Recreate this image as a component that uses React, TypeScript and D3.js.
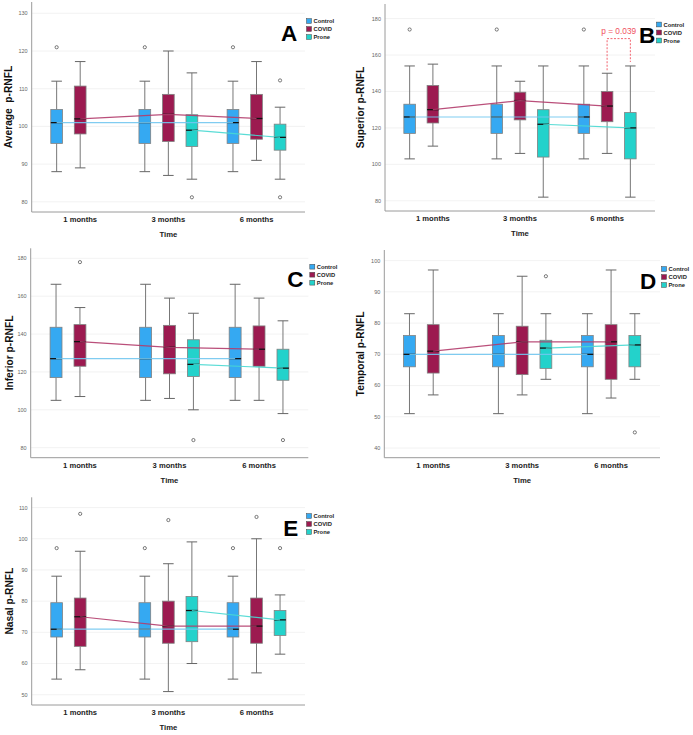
import * as d3 from "d3";

const TIMES = ["1 months", "3 months", "6 months"];
const GROUPS = ["Control", "COVID", "Prone"];
const COLORS = ["#35a9f2", "#9c1a50", "#23d2cb"];
const LINE_COLORS = ["#72c6ef", "#b23c6c", "#48d8d2"];

// each box: [low whisker, q1, median, q3, high whisker]; null = no data
type Box = number[] | null;

// A – Average p-RNFL
const A_CONTROL: Box[] = [[88, 95.5, 101, 104.5, 112], [88, 95.5, 101, 104.5, 112], [88, 95.5, 101, 104.5, 112]];
const A_COVID: Box[] = [[89, 98, 102, 110.7, 117.2], [87, 96, 103.2, 108.5, 120], [91, 96.6, 102.1, 108.5, 117.2]];
const A_PRONE: Box[] = [null, [86, 94.7, 99, 103.1, 114.2], [86, 93.7, 97.1, 100.6, 105.1]];
const A_OUT = [[[121], [121], [121]], [[], [], []], [[], [81.2], [112.2, 81.2]]];

// B – Superior p-RNFL
const B_CONTROL: Box[] = [[103, 117, 126, 133, 154], [103, 117, 126, 133, 154], [103, 117, 126, 133, 154]];
const B_COVID: Box[] = [[110, 122.7, 130, 143.3, 155], [106, 124.4, 135, 139.6, 145.6], [106, 123.4, 132, 140, 150]];
const B_PRONE: Box[] = [null, [82, 104, 122, 130, 154], [82, 103, 120, 128.4, 154]];
const B_OUT = [[[174], [174], [174]], [[], [], []], [[], [], []]];

// C – Inferior p-RNFL
const C_CONTROL: Box[] = [[105, 117, 127, 143.6, 166.3], [105, 117, 127, 143.6, 166.3], [105, 117, 127, 143.6, 166.3]];
const C_COVID: Box[] = [[107, 123, 136, 145, 154], [106, 119, 133, 144.6, 159], [105, 123, 132, 144.3, 159]];
const C_PRONE: Box[] = [null, [100, 117.6, 124, 137, 151], [98, 115.6, 122, 132, 147]];
const C_OUT = [[[], [], []], [[178], [], []], [[], [84], [84]]];

// D – Temporal p-RNFL
const D_CONTROL: Box[] = [[51, 66, 70, 76, 83], [51, 66, 70, 76, 83], [51, 66, 70, 76, 83]];
const D_COVID: Box[] = [[57, 64, 71, 79.5, 97], [57, 63.5, 74, 79, 95], [56, 62, 74, 79.5, 97]];
const D_PRONE: Box[] = [null, [62, 65.5, 72, 74.5, 83], [62, 66, 73, 76, 83]];
const D_OUT = [[[], [], []], [[], [], []], [[], [95], [45]]];

// E – Nasal p-RNFL
const E_CONTROL: Box[] = [[55, 68.5, 71, 79.5, 88], [55, 68.5, 71, 79.5, 88], [55, 68.5, 71, 79.5, 88]];
const E_COVID: Box[] = [[58, 65.5, 75, 81, 96], [51, 66.5, 72, 80, 92], [57, 66.5, 72, 81, 100]];
const E_PRONE: Box[] = [null, [60, 67, 77, 81.5, 99], [63, 69, 74, 77, 82]];
const E_OUT = [[[97], [97], [97]], [[108], [106], [107]], [[], [], [97]]];

const FONT = "'Liberation Sans', Arial, sans-serif";

const PANELS = [
  { letter: "A", label: "Average  p-RNFL", boxes: [A_CONTROL, A_COVID, A_PRONE], out: A_OUT,
    left: 31.7, right: 305, top: 2, bottom: 212, domain: [77.3, 133], ticks: d3.range(80, 131, 10),
    labelX: 12, letterDx: -24, legendDy: 19 },
  { letter: "B", label: "Superior p-RNFL", boxes: [B_CONTROL, B_COVID, B_PRONE], out: B_OUT,
    left: 385, right: 655, top: 4, bottom: 211, domain: [74.4, 188], ticks: d3.range(80, 181, 20),
    labelX: 364, letterDx: -16, legendDy: 20.5, pval: { text: "p = 0.039", t: 2, top: 169 } },
  { letter: "C", label: "Inferior p-RNFL", boxes: [C_CONTROL, C_COVID, C_PRONE], out: C_OUT,
    left: 30.7, right: 308.3, top: 248.3, bottom: 457.7, domain: [74.7, 185.3], ticks: d3.range(80, 181, 20),
    labelX: 12.7, letterDx: -21, legendDy: 18.4 },
  { letter: "D", label: "Temporal p-RNFL", boxes: [D_CONTROL, D_COVID, D_PRONE], out: D_OUT,
    left: 384.3, right: 660, top: 250, bottom: 457.7, domain: [36.9, 103.4], ticks: d3.range(40, 101, 10),
    labelX: 364, letterDx: -20, legendDy: 19 },
  { letter: "E", label: "Nasal p-RNFL", boxes: [E_CONTROL, E_COVID, E_PRONE], out: E_OUT,
    left: 31.7, right: 305, top: 497.3, bottom: 705, domain: [46.7, 113.3], ticks: d3.range(50, 111, 10),
    labelX: 12.7, letterDx: -21.7, legendDy: 18.7 },
];

function Panel({ p }: { p: any }) {
  const y = d3.scaleLinear().domain(p.domain).range([p.bottom, p.top]);
  const x = d3.scalePoint<string>().domain(TIMES).range([p.left, p.right]).padding(0.55);
  const step = x.step();
  const off = step * 0.267;
  const bw = step * 0.133;
  const cap = bw * 0.45;
  const gx = (t: number, g: number) => (x(TIMES[t]) as number) + (g - 1) * off;
  const midY = (p.top + p.bottom) / 2;
  const midX = (p.left + p.right) / 2;

  const medLine = (g: number) =>
    d3
      .line<Box>()
      .defined((d) => d !== null)
      .x((_, i) => gx(i, g))
      .y((d) => y((d as number[])[2]));

  return (
    <g fontFamily={FONT}>
      {/* grid + y ticks */}
      {p.ticks.map((t: number) => (
        <g key={t}>
          <line x1={p.left} x2={p.right} y1={y(t)} y2={y(t)} stroke="#efefef" strokeWidth={0.8} />
          <text x={p.left - 4} y={y(t)} dy="0.35em" textAnchor="end" fontSize={5.5} fill="#666">
            {t}
          </text>
        </g>
      ))}
      {/* axes */}
      <line x1={p.left} x2={p.left} y1={p.top} y2={p.bottom} stroke="#9a9a9a" strokeWidth={1} />
      <line x1={p.left} x2={p.right} y1={p.bottom} y2={p.bottom} stroke="#9a9a9a" strokeWidth={1} />
      {TIMES.map((t) => (
        <text key={t} x={x(t)} y={p.bottom + 10} textAnchor="middle" fontSize={7.6} fontWeight="bold" fill="#222">
          {t}
        </text>
      ))}
      <text x={midX} y={p.bottom + 25} textAnchor="middle" fontSize={7.7} fontWeight="bold" fill="#222">
        Time
      </text>
      <text
        transform={`translate(${p.labelX},${midY}) rotate(-90)`}
        textAnchor="middle"
        fontSize={10.2}
        fontWeight="bold"
        fill="#111"
        style={{ whiteSpace: "pre" }}
      >
        {p.label}
      </text>

      {/* boxes */}
      {p.boxes.map((series: Box[], g: number) =>
        series.map((b, t) => {
          if (!b) return null;
          const cx = gx(t, g);
          return (
            <g key={`${g}-${t}`}>
              <line x1={cx} x2={cx} y1={y(b[4])} y2={y(b[3])} stroke="#777" strokeWidth={1} />
              <line x1={cx} x2={cx} y1={y(b[1])} y2={y(b[0])} stroke="#777" strokeWidth={1} />
              <line x1={cx - cap} x2={cx + cap} y1={y(b[4])} y2={y(b[4])} stroke="#666" strokeWidth={1} />
              <line x1={cx - cap} x2={cx + cap} y1={y(b[0])} y2={y(b[0])} stroke="#666" strokeWidth={1} />
              <rect
                x={cx - bw / 2}
                y={y(b[3])}
                width={bw}
                height={y(b[1]) - y(b[3])}
                fill={COLORS[g]}
                stroke="#808080"
                strokeWidth={0.8}
              />
              <line x1={cx - bw / 2} x2={cx + bw / 2} y1={y(b[2])} y2={y(b[2])} stroke="#111" strokeWidth={1.3} />
            </g>
          );
        })
      )}

      {/* median connecting lines */}
      {p.boxes.map((series: Box[], g: number) => (
        <path
          key={`l${g}`}
          d={medLine(g)(series) || ""}
          fill="none"
          stroke={LINE_COLORS[g]}
          strokeWidth={1.2}
          opacity={0.9}
        />
      ))}

      {/* outliers */}
      {p.out.map((series: number[][], g: number) =>
        series.map((vals, t) =>
          vals.map((v, k) => (
            <circle key={`o${g}-${t}-${k}`} cx={gx(t, g)} cy={y(v)} r={1.6} fill="#fff" stroke="#444" strokeWidth={0.7} />
          ))
        )
      )}

      {/* p-value bracket */}
      {p.pval && (() => {
        const t = p.pval.t;
        const x1 = gx(t, 1);
        const x2 = gx(t, 2);
        const yt = y(p.pval.top);
        const b1 = p.boxes[1][t] as number[];
        const b2 = p.boxes[2][t] as number[];
        return (
          <g>
            <path
              d={`M${x1},${y(b1[4]) - 3}V${yt}H${x2}V${y(b2[4]) - 4}`}
              fill="none"
              stroke="#f0505e"
              strokeWidth={0.9}
              strokeDasharray="2,1.5"
            />
            <text x={(x1 + x2) / 2} y={yt - 5} textAnchor="middle" fontSize={8.3} fill="#f0505e">
              {p.pval.text}
            </text>
          </g>
        );
      })()}

      {/* panel letter */}
      <text x={p.right + p.letterDx} y={p.top + 39} fontSize={22.5} fontWeight="bold" fill="#000">
        {p.letter}
      </text>

      {/* legend */}
      {GROUPS.map((name, g) => (
        <g key={name} transform={`translate(${p.right + 1.5},${p.top + p.legendDy + g * 8})`}>
          <rect x={0} y={-2.4} width={5} height={4.8} fill={COLORS[g]} stroke="#444" strokeWidth={0.5} />
          <text x={7} y={0} dy="0.35em" fontSize={5.8} fontWeight="bold" fill="#222">
            {name}
          </text>
        </g>
      ))}
    </g>
  );
}

export default function App() {
  return (
    <svg
      width={693}
      height={735}
      style={{ position: "absolute", left: 0, top: 0, background: "#fff" }}
    >
      <rect width={693} height={735} fill="#fff" />
      {PANELS.map((p) => (
        <Panel key={p.letter} p={p} />
      ))}
    </svg>
  );
}
